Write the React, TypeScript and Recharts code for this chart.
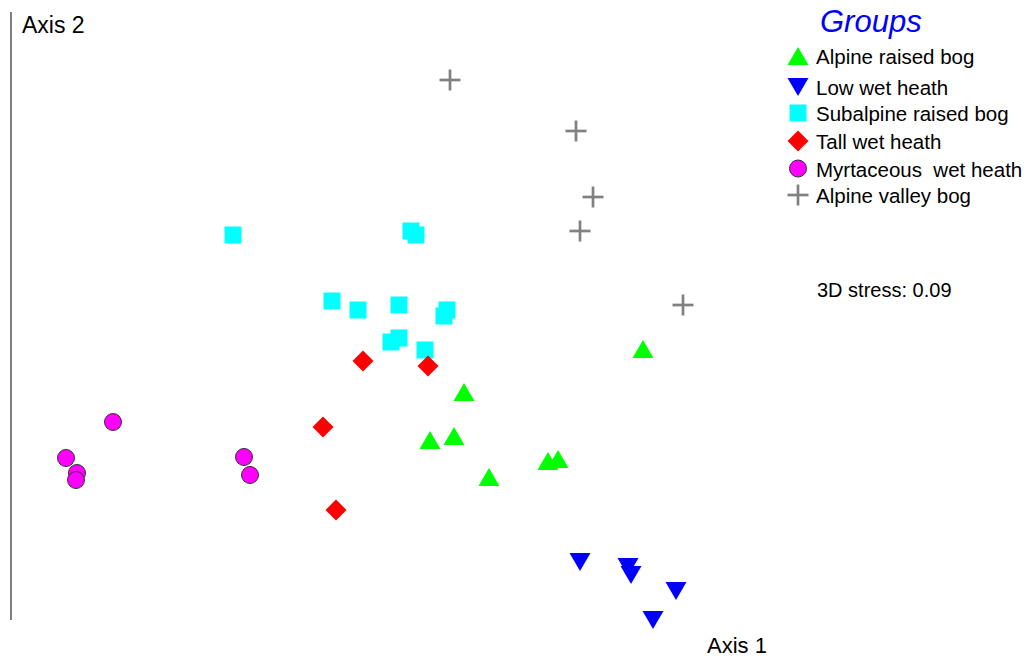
import { ScatterChart, Scatter, XAxis, YAxis } from 'recharts'

type Kind = 'up' | 'down' | 'square' | 'diamond' | 'circle' | 'plus'

interface Pt {
  x: number
  y: number
}

// NMDS ordination scores (Axis 1, Axis 2)
const alpineRaisedBog: Pt[] = [
  { x: 0.66, y: -0.165 },
  { x: -0.235, y: -0.38 },
  { x: -0.405, y: -0.62 },
  { x: -0.285, y: -0.6 },
  { x: 0.185, y: -0.725 },
  { x: 0.235, y: -0.715 },
  { x: -0.11, y: -0.805 },
]

const lowWetHeath: Pt[] = [
  { x: 0.345, y: -1.23 },
  { x: 0.585, y: -1.255 },
  { x: 0.6, y: -1.295 },
  { x: 0.825, y: -1.375 },
  { x: 0.71, y: -1.52 },
]

const subalpineRaisedBog: Pt[] = [
  { x: -1.39, y: 0.405 },
  { x: -0.5, y: 0.425 },
  { x: -0.475, y: 0.405 },
  { x: -0.895, y: 0.075 },
  { x: -0.765, y: 0.03 },
  { x: -0.56, y: 0.055 },
  { x: -0.32, y: 0.03 },
  { x: -0.335, y: 0.0 },
  { x: -0.56, y: -0.11 },
  { x: -0.6, y: -0.13 },
  { x: -0.43, y: -0.17 },
]

const tallWetHeath: Pt[] = [
  { x: -0.74, y: -0.225 },
  { x: -0.415, y: -0.25 },
  { x: -0.94, y: -0.555 },
  { x: -0.875, y: -0.97 },
]

const myrtaceousWetHeath: Pt[] = [
  { x: -1.99, y: -0.53 },
  { x: -2.225, y: -0.71 },
  { x: -2.17, y: -0.785 },
  { x: -2.175, y: -0.82 },
  { x: -1.335, y: -0.705 },
  { x: -1.305, y: -0.795 },
]

const alpineValleyBog: Pt[] = [
  { x: -0.305, y: 1.18 },
  { x: 0.325, y: 0.925 },
  { x: 0.41, y: 0.595 },
  { x: 0.345, y: 0.425 },
  { x: 0.86, y: 0.055 },
]

const groups: { name: string; kind: Kind; color: string; data: Pt[] }[] = [
  { name: 'Alpine raised bog', kind: 'up', color: '#00ff00', data: alpineRaisedBog },
  { name: 'Low wet heath', kind: 'down', color: '#0000ff', data: lowWetHeath },
  { name: 'Subalpine raised bog', kind: 'square', color: '#00ffff', data: subalpineRaisedBog },
  { name: 'Tall wet heath', kind: 'diamond', color: '#ff0000', data: tallWetHeath },
  { name: 'Myrtaceous  wet heath', kind: 'circle', color: '#ff00ff', data: myrtaceousWetHeath },
  { name: 'Alpine valley bog', kind: 'plus', color: '#808080', data: alpineValleyBog },
]

const FONT = '"Liberation Sans", Arial, sans-serif'

function Marker({ kind, cx, cy, color }: { kind: Kind; cx: number; cy: number; color: string }) {
  switch (kind) {
    case 'up':
      return <polygon points={`${cx},${cy - 9} ${cx - 10.5},${cy + 9} ${cx + 10.5},${cy + 9}`} fill={color} />
    case 'down':
      return <polygon points={`${cx - 10.5},${cy - 9} ${cx + 10.5},${cy - 9} ${cx},${cy + 9}`} fill={color} />
    case 'square':
      return <rect x={cx - 8.5} y={cy - 8.5} width={17} height={17} fill={color} />
    case 'diamond':
      return (
        <polygon
          points={`${cx},${cy - 10.5} ${cx + 10.5},${cy} ${cx},${cy + 10.5} ${cx - 10.5},${cy}`}
          fill={color}
        />
      )
    case 'circle':
      return <circle cx={cx} cy={cy} r={8.5} fill={color} stroke="#333" strokeWidth={1} />
    case 'plus':
      return (
        <g stroke={color} strokeWidth={2.7}>
          <line x1={cx - 10.5} y1={cy} x2={cx + 10.5} y2={cy} />
          <line x1={cx} y1={cy - 10.5} x2={cx} y2={cy + 10.5} />
        </g>
      )
  }
}

// legend rows, drawn at the top right like the original
const legendRowY = [56, 87, 113, 141, 168.5, 195]

export default function App() {
  return (
    <div style={{ position: 'absolute', left: 0, top: 0, width: 1027, height: 659, background: '#fff' }}>
      <ScatterChart width={1027} height={659} margin={{ top: 12, right: 0, bottom: 39, left: 10 }}>
        <XAxis type="number" dataKey="x" domain={[-2.5, 2.58]} hide />
        <YAxis
          type="number"
          dataKey="y"
          domain={[-1.52, 1.52]}
          width={1}
          tick={false}
          tickLine={false}
          axisLine={{ stroke: '#000', strokeWidth: 1 }}
        />
        {groups.map((g) => (
          <Scatter
            key={g.name}
            name={g.name}
            data={g.data}
            fill={g.color}
            isAnimationActive={false}
            shape={(p: any) => <Marker kind={g.kind} cx={p.cx} cy={p.cy} color={g.color} />}
          />
        ))}
      </ScatterChart>
      <svg
        width={1027}
        height={659}
        style={{ position: 'absolute', left: 0, top: 0, pointerEvents: 'none' }}
      >
        <text x={22} y={33} fontSize={23} fontFamily={FONT} fill="#000">
          Axis 2
        </text>
        <text x={707} y={653} fontSize={22} fontFamily={FONT} fill="#000">
          Axis 1
        </text>
        <text x={817} y={297} fontSize={20} fontFamily={FONT} fill="#000">
          3D stress: 0.09
        </text>
        <text x={820} y={32} fontSize={31} fontStyle="italic" fill="#0000ff" fontFamily={FONT}>
          Groups
        </text>
        {groups.map((g, i) => (
          <g key={g.name}>
            <Marker kind={g.kind} cx={798} cy={legendRowY[i]} color={g.color} />
            <text
              x={816}
              y={legendRowY[i] + 8}
              fontSize={20.5}
              fill="#000"
              fontFamily={FONT}
              style={{ whiteSpace: 'pre' }}
            >
              {g.name}
            </text>
          </g>
        ))}
      </svg>
    </div>
  )
}
